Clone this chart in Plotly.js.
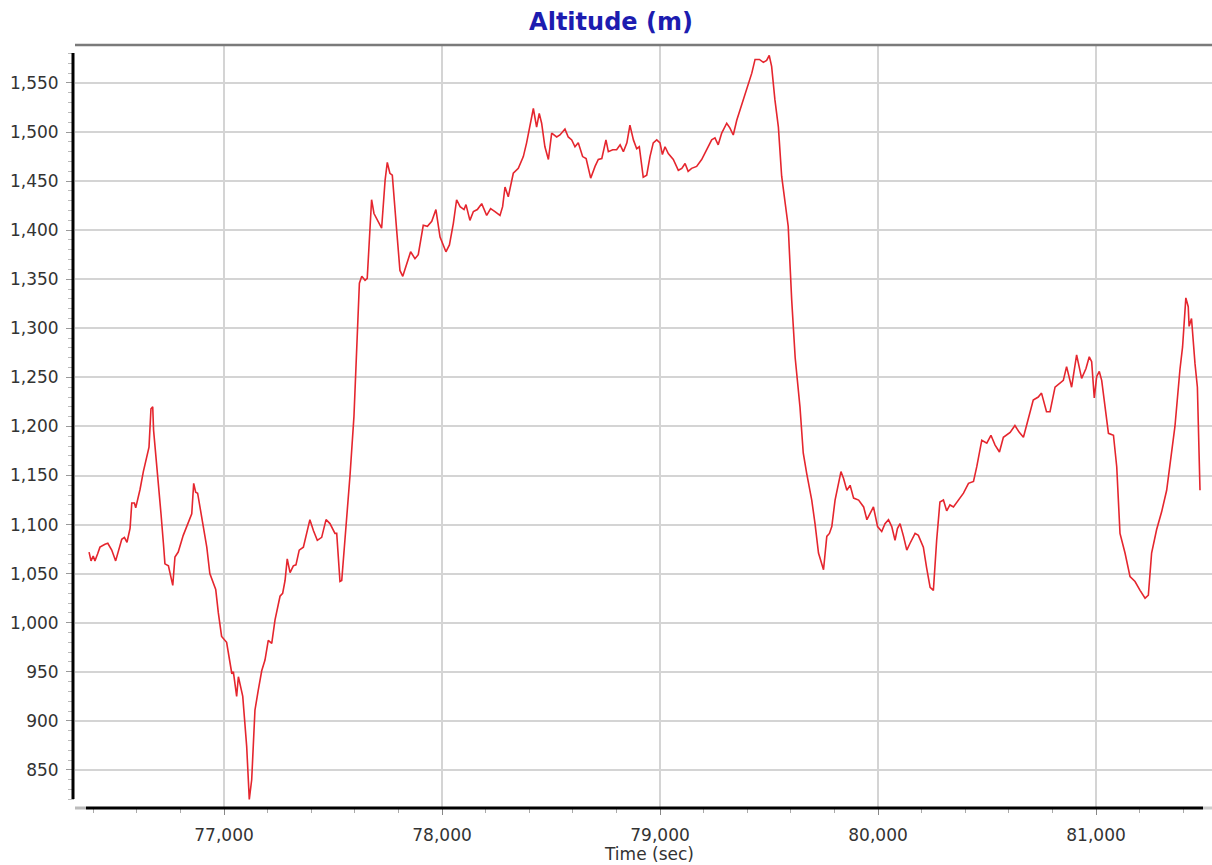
<!DOCTYPE html>
<html>
<head>
<meta charset="utf-8">
<script src="https://cdn.plot.ly/plotly-3.0.1.min.js"></script>
<style>html,body{margin:0;padding:0;background:#fff;}#chart{width:1212px;height:865px;}</style>
</head>
<body>
<div id="chart"></div>
<script>
const timeSec = [76381,76390,76400,76408,76420,76431,76454,76467,76485,76503,76531,76543,76555,76569,76577,76589,76595,76615,76630,76645,76656,76665,76673,76677,76687,76699,76711,76722,76729,76745,76756,76765,76775,76790,76813,76836,76852,76861,76870,76879,76898,76921,76935,76950,76962,76974,76989,77012,77028,77036,77043,77058,77066,77076,77086,77104,77116,77127,77142,77157,77173,77188,77203,77219,77234,77257,77269,77280,77290,77303,77318,77330,77345,77364,77394,77410,77428,77448,77468,77486,77509,77517,77532,77540,77558,77578,77596,77608,77621,77632,77647,77657,77677,77688,77708,77723,77739,77749,77761,77772,77792,77807,77820,77838,77856,77876,77891,77914,77933,77953,77972,77991,78018,78034,78052,78067,78083,78101,78110,78128,78144,78162,78182,78205,78223,78243,78266,78278,78289,78304,78327,78350,78373,78388,78404,78419,78434,78446,78457,78472,78488,78503,78526,78541,78564,78579,78595,78610,78625,78645,78661,78682,78702,78717,78733,78752,78763,78783,78801,78817,78832,78848,78862,78878,78893,78905,78923,78939,78954,78969,78985,79000,79011,79023,79038,79061,79084,79100,79115,79129,79145,79168,79191,79214,79237,79252,79267,79283,79306,79321,79336,79352,79367,79390,79398,79421,79436,79456,79474,79489,79501,79512,79527,79543,79558,79573,79588,79604,79620,79642,79657,79673,79696,79711,79727,79750,79765,79777,79788,79803,79819,79830,79842,79857,79872,79888,79911,79934,79949,79964,79979,79998,80017,80032,80048,80063,80078,80089,80101,80117,80132,80147,80170,80185,80208,80223,80239,80254,80269,80284,80300,80315,80330,80346,80369,80392,80415,80438,80453,80476,80499,80518,80537,80557,80575,80606,80628,80648,80667,80689,80712,80735,80750,80773,80789,80812,80835,80850,80865,80888,80911,80934,80954,80969,80980,80992,81003,81015,81026,81041,81057,81080,81095,81110,81133,81156,81179,81202,81225,81240,81255,81278,81301,81324,81339,81362,81385,81397,81412,81423,81427,81438,81454,81465,81477];
const altitudeM = [1072,1063,1068,1063,1070,1077,1080,1081,1074,1063,1085,1087,1082,1096,1122,1122,1117,1136,1154,1168,1179,1218,1220,1196,1173,1145,1111,1081,1060,1058,1046,1038,1067,1072,1089,1101,1111,1142,1133,1132,1108,1077,1050,1040,1034,1010,986,980,961,948,950,925,945,935,925,874,820,840,911,931,951,962,982,979,1003,1027,1030,1043,1065,1051,1058,1059,1074,1077,1105,1094,1084,1087,1105,1101,1091,1091,1042,1043,1092,1150,1210,1270,1346,1353,1349,1351,1431,1417,1409,1402,1451,1469,1458,1456,1400,1359,1353,1366,1378,1371,1375,1405,1404,1409,1421,1393,1378,1385,1407,1431,1424,1421,1426,1410,1419,1421,1427,1415,1422,1419,1415,1424,1444,1434,1458,1463,1475,1489,1509,1524,1505,1519,1509,1485,1472,1499,1495,1497,1503,1495,1492,1485,1489,1475,1473,1453,1465,1472,1473,1492,1480,1482,1482,1487,1480,1489,1507,1492,1483,1485,1454,1456,1475,1489,1492,1489,1477,1485,1478,1472,1461,1463,1468,1460,1463,1465,1472,1482,1492,1494,1487,1499,1509,1504,1497,1512,1522,1539,1543,1560,1574,1574,1571,1573,1578,1567,1533,1505,1455,1431,1404,1329,1270,1220,1173,1152,1125,1101,1071,1054,1088,1091,1098,1125,1142,1154,1147,1135,1140,1127,1125,1118,1105,1111,1118,1098,1093,1101,1105,1098,1084,1096,1101,1088,1074,1081,1091,1089,1077,1056,1036,1033,1084,1123,1125,1114,1120,1118,1125,1132,1142,1144,1159,1186,1183,1191,1181,1174,1189,1194,1201,1194,1189,1207,1227,1230,1234,1215,1215,1240,1244,1247,1261,1240,1273,1249,1259,1271,1266,1229,1251,1256,1247,1220,1193,1191,1159,1091,1071,1047,1042,1033,1025,1028,1071,1095,1113,1135,1159,1200,1258,1281,1331,1322,1302,1310,1264,1240,1135];
const titleText = "Altitude (m)";
const xTitleText = "Time (sec)";
const xTicks = [77000,78000,79000,80000,81000];
const yTicks = [850,900,950,1000,1050,1100,1150,1200,1250,1300,1350,1400,1450,1500,1550];

const W = 1212, H = 865;
const L = 75, R = 0, T = 45, B = 57;
const pw = W - L - R, ph = H - T - B;
const px = v => (v - L) / pw;
const py = v => (H - B - v) / ph;

const font = "DejaVu Sans, Verdana, sans-serif";

const trace = {
  x: timeSec, y: altitudeM, type: 'scatter', mode: 'lines',
  line: {color: '#e5262e', width: 1.6}, hoverinfo: 'x+y'
};

const layout = {
  width: W, height: H,
  margin: {l: L, r: R, t: T, b: B, pad: 0},
  paper_bgcolor: '#ffffff', plot_bgcolor: '#ffffff',
  showlegend: false,
  title: {text: titleText, font: {family: font, size: 24, color: '#1c1cb0', weight: 'bold'}, x: 611 / W, xanchor: 'center', y: 1 - 22 / H, yanchor: 'middle'},
  xaxis: {
    range: [76316.5, 81532], tickvals: xTicks, tickformat: ',d',
    showgrid: true, gridcolor: '#d4d4d4', gridwidth: 2,
    zeroline: false, showline: false,
    ticks: 'outside', ticklen: 6, tickcolor: '#888', tickwidth: 1,
    minor: {dtick: 200, tick0: 77000, ticks: 'outside', ticklen: 4, tickcolor: '#aaa', showgrid: false},
    tickfont: {family: font, size: 17, color: '#333'},
    ticklabelstandoff: 6
  },
  yaxis: {
    range: [811.2, 1588.7], tickvals: yTicks, tickformat: ',d',
    showgrid: true, gridcolor: '#d4d4d4', gridwidth: 2,
    zeroline: false, showline: false,
    ticks: 'outside', ticklen: 8, tickcolor: '#999', tickwidth: 1,
    minor: {dtick: 10, tick0: 850, ticks: 'outside', ticklen: 6, tickcolor: '#bbb', showgrid: false},
    tickfont: {family: font, size: 17, color: '#333'},
    ticklabelstandoff: 4
  },
  shapes: [
    {type: 'line', xref: 'paper', yref: 'paper', x0: 0, x1: 1, y0: 1, y1: 1, line: {color: '#7a7a7a', width: 2.5}, layer: 'above'},
    {type: 'line', xref: 'paper', yref: 'paper', x0: px(73), x1: px(73), y0: py(53), y1: py(799), line: {color: '#000', width: 3}, layer: 'above'},
    {type: 'line', xref: 'paper', yref: 'paper', x0: px(75), x1: px(86), y0: py(808), y1: py(808), line: {color: '#bbb', width: 3}, layer: 'above'},
    {type: 'line', xref: 'paper', yref: 'paper', x0: px(86), x1: px(1203), y0: py(808), y1: py(808), line: {color: '#000', width: 3}, layer: 'above'},
    {type: 'line', xref: 'paper', yref: 'paper', x0: px(1203), x1: 1, y0: py(808), y1: py(808), line: {color: '#ccc', width: 3}, layer: 'above'}
  ],
  annotations: [
    {text: xTitleText, xref: 'paper', yref: 'paper', x: px(649), y: py(854), xanchor: 'center', yanchor: 'middle', showarrow: false, font: {family: font, size: 17, color: '#333'}}
  ]
};

Plotly.newPlot('chart', [trace], layout, {displayModeBar: false, staticPlot: true});
</script>
</body>
</html>
